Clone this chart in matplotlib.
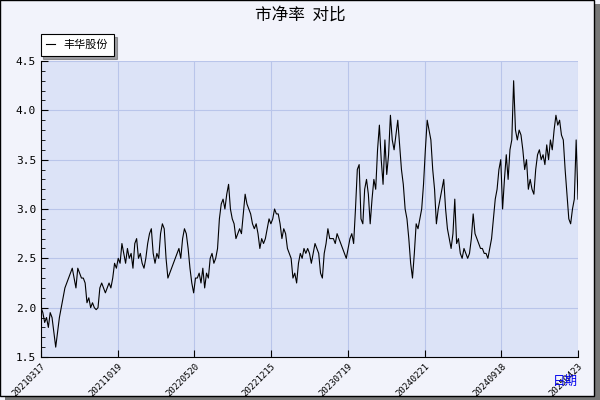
import matplotlib.pyplot as plt
import numpy as np

plt.rcParams['font.family'] = ['Noto Sans CJK SC', 'DejaVu Sans']

pb = [2.0, 1.95, 1.85, 1.9, 1.8, 1.95, 1.9, 1.75, 1.6, 1.75, 1.9, 2.0,
      2.1, 2.2, 2.25, 2.3, 2.35, 2.4, 2.3, 2.2, 2.4, 2.35, 2.3,
      2.3, 2.25, 2.05, 2.1, 2.0, 2.05, 2.0, 1.98, 2.0,
      2.2, 2.25, 2.2, 2.15, 2.2, 2.25, 2.2, 2.3, 2.45,
      2.4, 2.5, 2.45, 2.65, 2.55, 2.45, 2.6, 2.5, 2.55, 2.4, 2.65,
      2.7, 2.5, 2.55, 2.45, 2.4, 2.5, 2.65, 2.75, 2.8, 2.55, 2.45,
      2.55, 2.5, 2.75, 2.85, 2.8, 2.5, 2.3, 2.35, 2.4, 2.45, 2.5,
      2.55, 2.6, 2.5, 2.7, 2.8, 2.75, 2.6, 2.4, 2.25, 2.15, 2.3,
      2.3, 2.35, 2.25, 2.4, 2.2, 2.35, 2.3, 2.5, 2.55, 2.45,
      2.5, 2.6, 2.9, 3.05, 3.1, 3.0, 3.15, 3.25, 3.0, 2.9, 2.85,
      2.7, 2.75, 2.8, 2.75, 2.95, 3.15, 3.05, 3.0, 2.95, 2.85,
      2.8, 2.85, 2.75, 2.6, 2.7, 2.65, 2.7, 2.8, 2.9, 2.85,
      2.9, 3.0, 2.95, 2.95, 2.85, 2.7, 2.8, 2.75, 2.6, 2.55, 2.5,
      2.3, 2.35, 2.25, 2.45, 2.55, 2.5, 2.6, 2.55, 2.6, 2.55, 2.45,
      2.55, 2.65, 2.6, 2.55, 2.35, 2.3, 2.55, 2.65, 2.8, 2.7,
      2.7, 2.7, 2.65, 2.75, 2.7, 2.65, 2.6, 2.55, 2.5, 2.6,
      2.7, 2.75, 2.65, 3.0, 3.4, 3.45, 2.9, 2.85, 3.2, 3.3, 3.15,
      2.85, 3.1, 3.3, 3.2, 3.6, 3.85, 3.5, 3.25, 3.7, 3.35, 3.55,
      3.95, 3.7, 3.6, 3.75, 3.9, 3.65, 3.4, 3.25, 3.0, 2.9, 2.7, 2.45, 2.3,
      2.55, 2.85, 2.8, 2.9, 3.0, 3.25, 3.6, 3.9, 3.8, 3.7, 3.4, 3.2,
      2.85, 3.0, 3.1, 3.2, 3.3, 3.0, 2.8, 2.7, 2.6, 2.75, 3.1,
      2.65, 2.7, 2.55, 2.5, 2.6, 2.55, 2.5, 2.55, 2.7, 2.95, 2.75,
      2.7, 2.65, 2.6, 2.6, 2.55, 2.55, 2.5, 2.6, 2.7, 2.9, 3.1,
      3.2, 3.4, 3.5, 3.0, 3.3, 3.55, 3.3, 3.6, 3.7, 4.3, 3.8, 3.7,
      3.8, 3.75, 3.6, 3.4, 3.5, 3.2, 3.3, 3.2, 3.15, 3.4,
      3.55, 3.6, 3.5, 3.55, 3.45, 3.65, 3.5, 3.7, 3.6, 3.8,
      3.95, 3.85, 3.9, 3.75, 3.7, 3.4, 3.15, 2.9, 2.85, 3.0, 3.1, 3.7, 3.1]
date_labels = ['20210317', '20211019', '20220520', '20221215',
               '20230719', '20240221', '20240918', '20250423']

fig = plt.figure(figsize=(6, 4), dpi=100, facecolor='#f2f3fb')
ax = fig.add_axes([41/600, 43/400, 537/600, 296/400], facecolor='#dce3f7')

idx = np.arange(len(pb))
ax.plot(idx, pb, color='black', lw=0.8)
ax.set_xlim(0, len(pb) - 1)
ax.set_ylim(1.5, 4.5)

ax.set_xticks(np.linspace(0, len(pb) - 1, len(date_labels)))
ax.set_xticklabels(date_labels, rotation=45, ha='right', fontsize=6.5,
                   family='DejaVu Sans Mono', rotation_mode='anchor')
ax.set_yticks([1.5, 2.0, 2.5, 3.0, 3.5, 4.0, 4.5])
ax.set_yticklabels(['1.5', '2.0', '2.5', '3.0', '3.5', '4.0', '4.5'],
                   fontsize=8, family='DejaVu Sans Mono')
ax.set_yticks(np.arange(1.5, 4.5, 0.1), minor=True)
ax.tick_params(axis='y', which='minor', length=3, direction='in')
ax.tick_params(axis='y', which='major', length=5, direction='in')
ax.tick_params(axis='x', length=5, direction='in', pad=3)
ax.grid(True, color='#b9c5ea', lw=0.8)
for s in ['top', 'right']:
    ax.spines[s].set_visible(False)

fig.text(0.5, 0.962, '市净率  对比', ha='center', va='center', fontsize=12)
fig.text(578/600, 0.03, '日期', ha='right', va='bottom', fontsize=9, color='#0000ee')

leg = ax.legend(['丰华股份'], loc='lower left', bbox_to_anchor=(-0.005, 1.01),
                fontsize=8, frameon=True, fancybox=False, shadow=True,
                handlelength=0.8, borderpad=0.5, edgecolor='black',
                borderaxespad=0.2)
leg.get_frame().set_linewidth(0.8)

# outer border with shadow
fig.patches.append(plt.Rectangle((0.008, 0.0), 0.992, 0.99, transform=fig.transFigure,
                                 fc='#777777', ec='none', zorder=-2))
fig.patches.append(plt.Rectangle((0.0, 0.01), 0.99, 0.99, transform=fig.transFigure,
                                 fc='#f2f3fb', ec='black', lw=1, zorder=-1))

fig.savefig('out.png', dpi=100, facecolor=fig.get_facecolor())
